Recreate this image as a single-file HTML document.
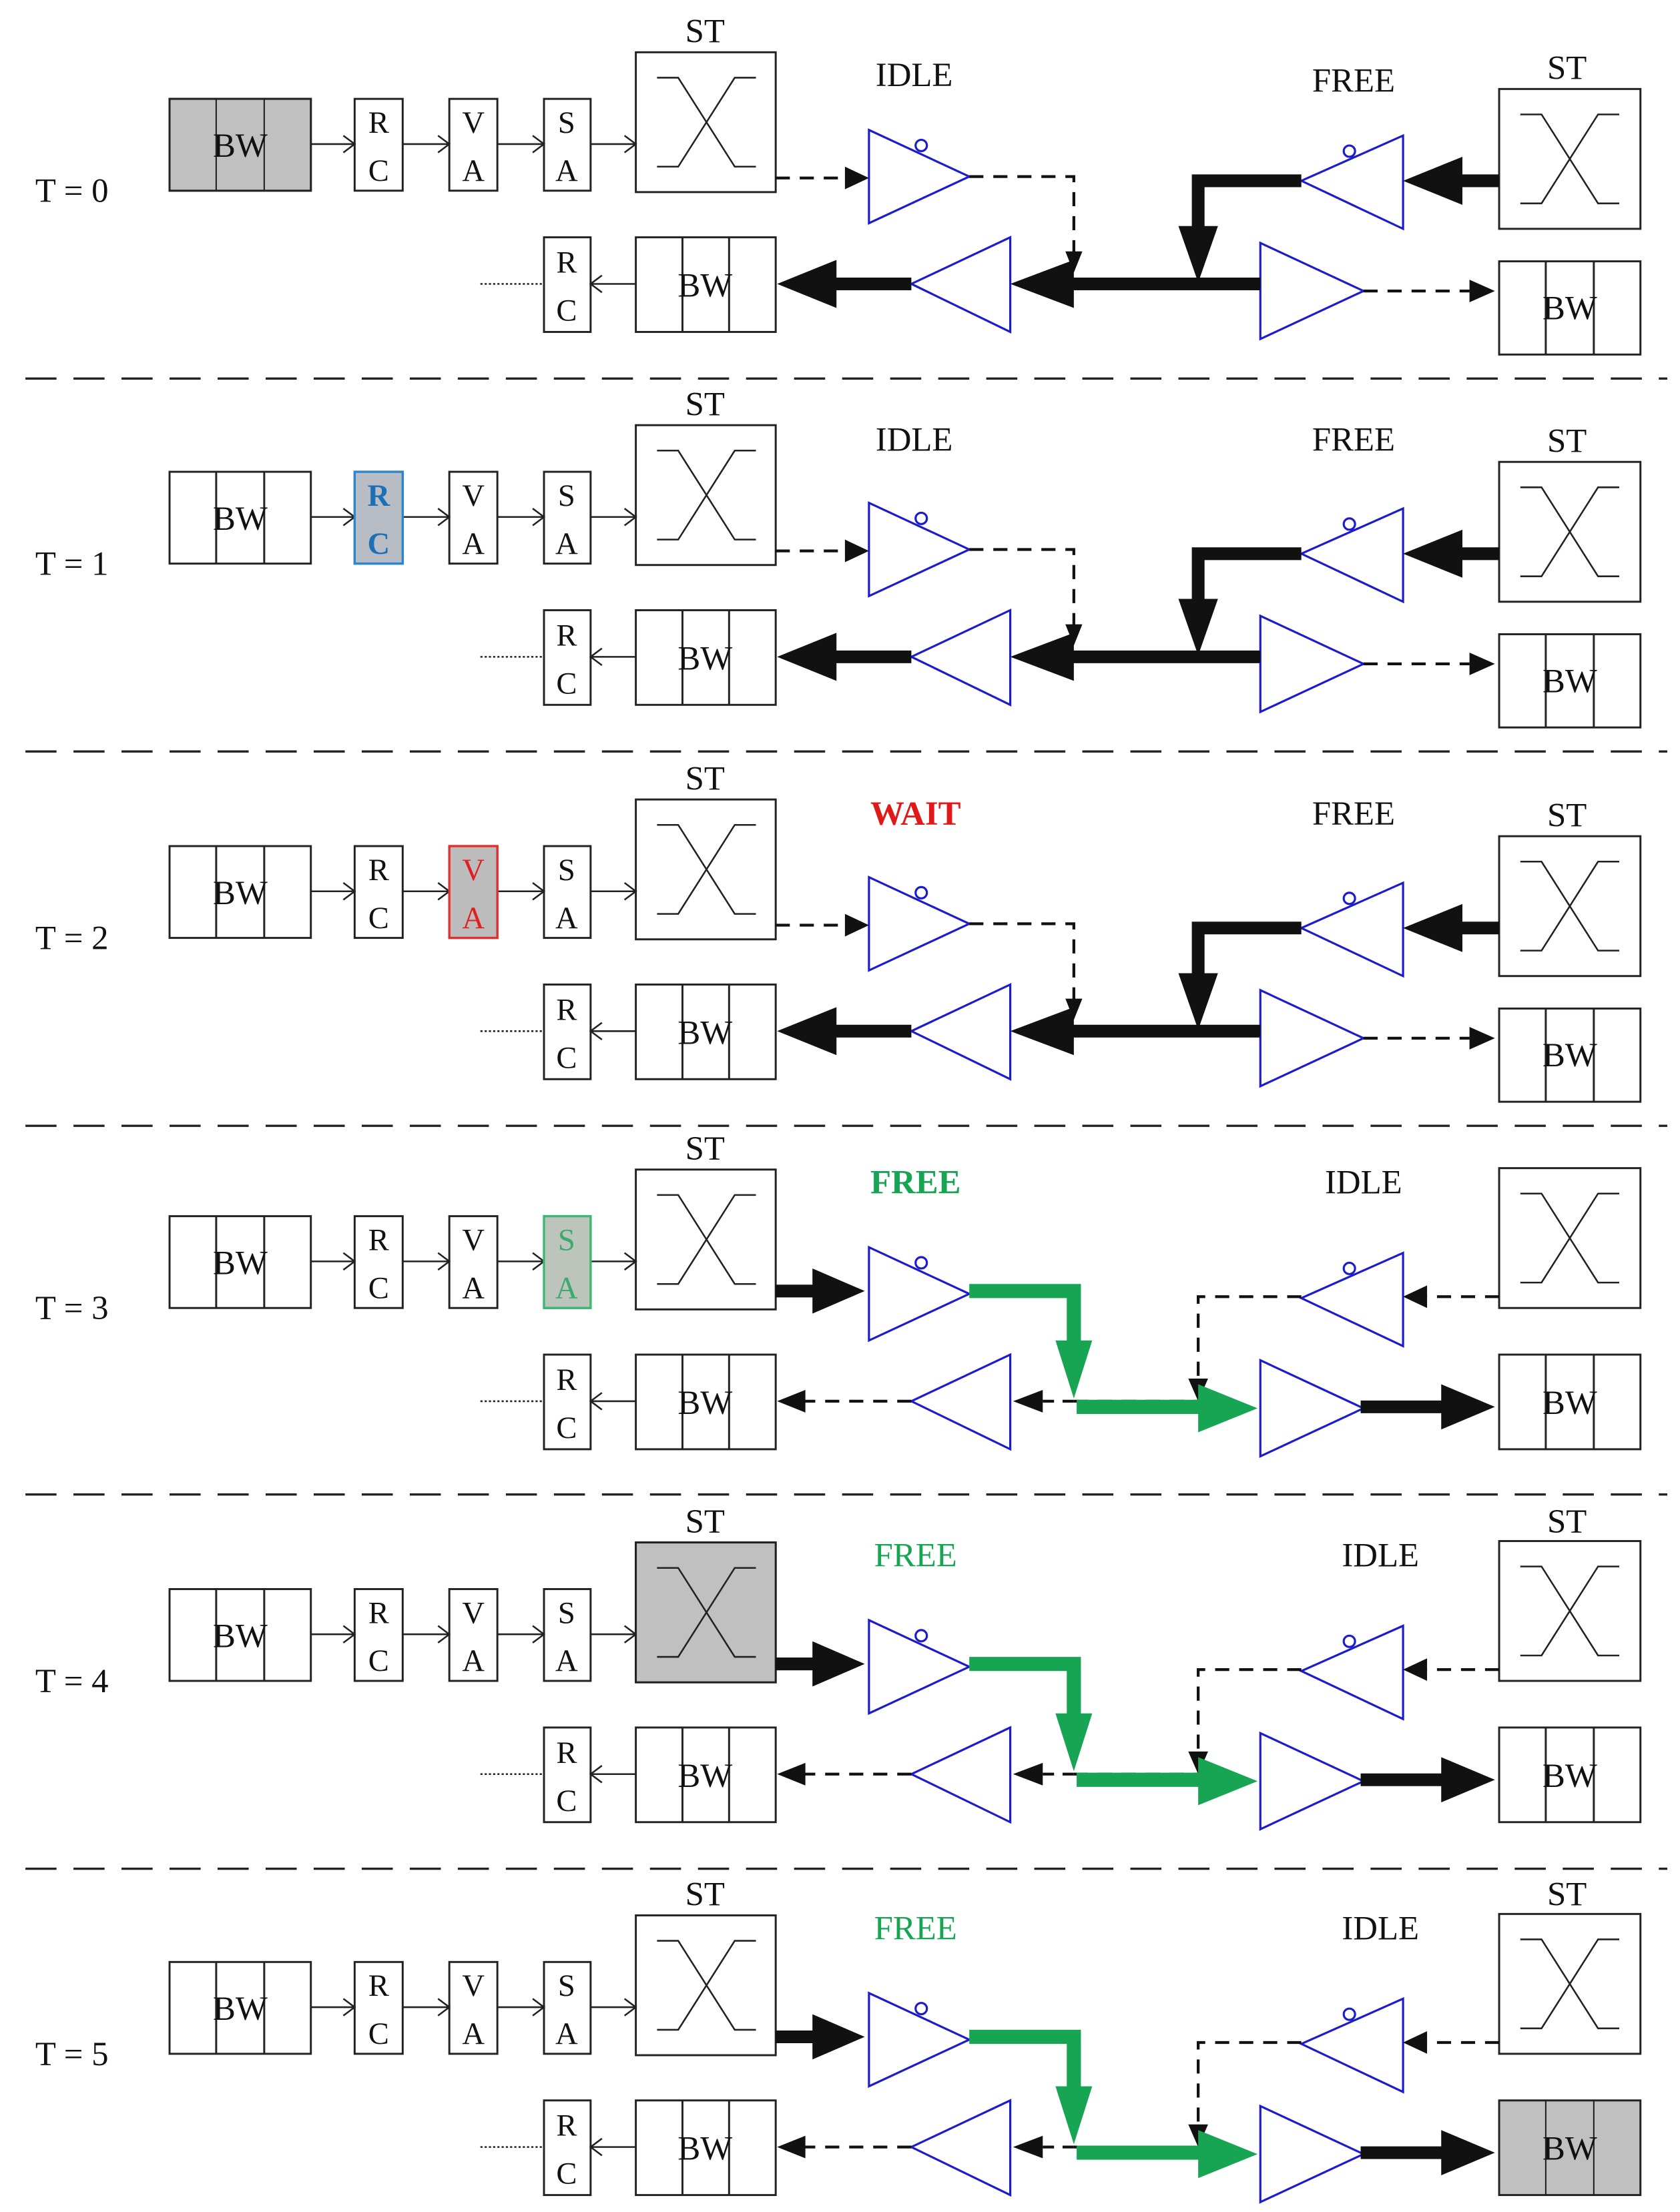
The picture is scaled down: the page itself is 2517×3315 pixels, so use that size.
<!DOCTYPE html>
<html><head><meta charset="utf-8"><style>
html,body{margin:0;padding:0;background:#fff}
svg{display:block}
text{font-family:"Liberation Serif",serif;fill:#111}
</style></head><body>
<svg width="2517" height="3315" viewBox="0 0 1189 1566" preserveAspectRatio="none" xmlns="http://www.w3.org/2000/svg">
<defs>
<g id="L" stroke="#222" stroke-width="1.4" fill="none">
 <rect x="120" y="70" width="100" height="65" fill="#fff"/>
 <line x1="153" y1="70" x2="153" y2="135"/><line x1="187" y1="70" x2="187" y2="135"/>
 <rect x="251" y="70" width="34" height="65" fill="#fff"/>
 <rect x="318" y="70" width="34" height="65" fill="#fff"/>
 <rect x="385" y="70" width="33" height="65" fill="#fff"/>
 <rect x="450" y="37" width="99" height="99" fill="#fff"/>
 <path d="M465 55H480L520 118H535M535 55H520L480 118H465" stroke-width="1.2"/>
 <rect x="385" y="168" width="33" height="67" fill="#fff"/>
 <rect x="450" y="168" width="99" height="67" fill="#fff"/>
 <line x1="483" y1="168" x2="483" y2="235"/><line x1="516" y1="168" x2="516" y2="235"/>
 <path d="M220 102H251M243 96L251 102L243 108M285 102H318M310 96L318 102L310 108M352 102H385M377 96L385 102L377 108M418 102H450M442 96L450 102L442 108" stroke-width="1.2"/>
 <path d="M450 201H418M426 195L418 201L426 207" stroke-width="1.2"/>
 <path d="M340 201H385" stroke-dasharray="1.5 1.5" stroke-width="1.2"/>
 <g stroke="#1c1ccc" stroke-width="1.5" fill="#fff">
  <path d="M615 92L615 158L686 125Z"/><circle cx="652" cy="103" r="4"/>
  <path d="M715 168L715 235L645 201Z"/>
  <path d="M993 96L993 162L921 128Z"/><circle cx="955" cy="107" r="4"/>
  <path d="M892 172L892 240L965 206Z"/>
 </g>
</g>
<g id="RA">
 <g stroke="#222" stroke-width="1.4" fill="#fff">
  <rect x="1061" y="63" width="100" height="99"/>
  <path d="M1076 81H1091L1131 144H1146M1146 81H1131L1091 144H1076" fill="none" stroke-width="1.2"/>
  <rect x="1061" y="185" width="100" height="66"/>
  <line x1="1094" y1="185" x2="1094" y2="251"/><line x1="1128" y1="185" x2="1128" y2="251"/>
 </g>
 <g stroke="#111" fill="none">
  <path d="M549 126H600" stroke-dasharray="10 7" stroke-width="2"/>
  <path d="M686 125H760V180" stroke-dasharray="10 7" stroke-width="2"/>
  <path d="M965 206H1040" stroke-dasharray="10 7" stroke-width="2"/>
  <path d="M892 201H758" stroke-width="9"/>
  <path d="M645 201H590" stroke-width="9"/>
  <path d="M921 128H848V162" stroke-width="9"/>
  <path d="M1061 128H1033" stroke-width="9"/>
 </g>
 <g fill="#111">
  <path d="M615 126L598 118L598 134Z"/>
  <path d="M760 193L754 178L766 178Z"/>
  <path d="M1058 206L1040 198L1040 214Z"/>
  <path d="M715 201L760 184L760 218Z"/>
  <path d="M550 201L592 184L592 218Z"/>
  <path d="M848 200L834 160L862 160Z"/>
  <path d="M993 128L1035 111L1035 145Z"/>
 </g>
</g>
<g id="RB">
 <g stroke="#222" stroke-width="1.4" fill="#fff">
  <rect x="1061" y="36" width="100" height="99"/>
  <path d="M1076 54H1091L1131 117H1146M1146 54H1131L1091 117H1076" fill="none" stroke-width="1.2"/>
 </g>
 <g stroke="#111" fill="none">
  <path d="M549 123H578" stroke-width="9"/>
  <path d="M963 205H1022" stroke-width="9"/>
  <path d="M1061 127H1008" stroke-dasharray="10 7" stroke-width="2"/>
  <path d="M921 127H848V188" stroke-dasharray="10 7" stroke-width="2"/>
  <path d="M760 201H848" stroke-dasharray="10 7" stroke-width="2"/>
  <path d="M760 201H738" stroke-dasharray="8 6" stroke-width="2"/>
  <path d="M645 201H568" stroke-dasharray="10 7" stroke-width="2"/>
 </g>
 <g fill="#111">
  <path d="M612 123L575 107L575 139Z"/>
  <path d="M1058 205L1020 189L1020 221Z"/>
  <path d="M993 127L1010 119L1010 135Z"/>
  <path d="M848 201L841 185L855 185Z"/>
  <path d="M717 201L738 193L738 209Z"/>
  <path d="M550 201L570 193L570 209Z"/>
 </g>
 <g stroke="#17a553" fill="none" stroke-width="10">
  <path d="M686 123H760V162"/>
  <path d="M762 205H852"/>
 </g>
 <g fill="#17a553">
  <path d="M760 199L747 158L773 158Z"/>
  <path d="M890 206L848 189L848 223Z"/>
 </g>
</g>
<g id="RBB" stroke="#222" stroke-width="1.4">
 <rect x="1061" y="168" width="100" height="67" fill="#fff"/>
 <line x1="1094" y1="168" x2="1094" y2="235"/><line x1="1128" y1="168" x2="1128" y2="235"/>
</g>
</defs>

<g stroke="#222" stroke-width="1.6" stroke-dasharray="22 12">
 <line x1="18" y1="268" x2="1180" y2="268"/>
 <line x1="18" y1="532" x2="1180" y2="532"/>
 <line x1="18" y1="797" x2="1180" y2="797"/>
 <line x1="18" y1="1058" x2="1180" y2="1058"/>
 <line x1="18" y1="1323" x2="1180" y2="1323"/>
</g>

<!-- T=0 -->
<g transform="translate(0,0)" font-size="24">
 <use href="#L"/><use href="#RA"/>
 <rect x="120" y="70" width="100" height="65" fill="#c0c0c0" stroke="#222" stroke-width="1.4"/>
 <line x1="153" y1="70" x2="153" y2="135" stroke="#222"/><line x1="187" y1="70" x2="187" y2="135" stroke="#222"/>
 <text x="25" y="143">T = 0</text>
 <text x="170" y="111" text-anchor="middle">BW</text>
 <text x="268" y="94" text-anchor="middle" font-size="22">R</text><text x="268" y="128" text-anchor="middle" font-size="22">C</text>
 <text x="335" y="94" text-anchor="middle" font-size="22">V</text><text x="335" y="128" text-anchor="middle" font-size="22">A</text>
 <text x="401" y="94" text-anchor="middle" font-size="22">S</text><text x="401" y="128" text-anchor="middle" font-size="22">A</text>
 <text x="499" y="30" text-anchor="middle">ST</text>
 <text x="401" y="193" text-anchor="middle" font-size="22">R</text><text x="401" y="227" text-anchor="middle" font-size="22">C</text>
 <text x="499" y="210" text-anchor="middle">BW</text>
 <text x="1111" y="226" text-anchor="middle">BW</text>
 <text x="647" y="61" text-anchor="middle">IDLE</text>
 <text x="958" y="65" text-anchor="middle">FREE</text>
 <text x="1109" y="56" text-anchor="middle">ST</text>
</g>

<!-- T=1 -->
<g transform="translate(0,264)" font-size="24">
 <use href="#L"/><use href="#RA"/>
 <rect x="251" y="70" width="34" height="65" fill="#b8bcc4" stroke="#2a86d0" stroke-width="1.6"/>
 <text x="25" y="143">T = 1</text>
 <text x="170" y="111" text-anchor="middle">BW</text>
 <text x="268" y="94" text-anchor="middle" font-size="22" font-weight="bold" style="fill:#1f6fb5">R</text><text x="268" y="128" text-anchor="middle" font-size="22" font-weight="bold" style="fill:#1f6fb5">C</text>
 <text x="335" y="94" text-anchor="middle" font-size="22">V</text><text x="335" y="128" text-anchor="middle" font-size="22">A</text>
 <text x="401" y="94" text-anchor="middle" font-size="22">S</text><text x="401" y="128" text-anchor="middle" font-size="22">A</text>
 <text x="499" y="30" text-anchor="middle">ST</text>
 <text x="401" y="193" text-anchor="middle" font-size="22">R</text><text x="401" y="227" text-anchor="middle" font-size="22">C</text>
 <text x="499" y="210" text-anchor="middle">BW</text>
 <text x="1111" y="226" text-anchor="middle">BW</text>
 <text x="647" y="55" text-anchor="middle">IDLE</text>
 <text x="958" y="55" text-anchor="middle">FREE</text>
 <text x="1109" y="56" text-anchor="middle">ST</text>
</g>

<!-- T=2 -->
<g transform="translate(0,529)" font-size="24">
 <use href="#L"/><use href="#RA"/>
 <rect x="318" y="70" width="34" height="65" fill="#bcbcbc" stroke="#e03030" stroke-width="1.6"/>
 <text x="25" y="143">T = 2</text>
 <text x="170" y="111" text-anchor="middle">BW</text>
 <text x="268" y="94" text-anchor="middle" font-size="22">R</text><text x="268" y="128" text-anchor="middle" font-size="22">C</text>
 <text x="335" y="94" text-anchor="middle" font-size="22" style="fill:#e02020">V</text><text x="335" y="128" text-anchor="middle" font-size="22" style="fill:#e02020">A</text>
 <text x="401" y="94" text-anchor="middle" font-size="22">S</text><text x="401" y="128" text-anchor="middle" font-size="22">A</text>
 <text x="499" y="30" text-anchor="middle">ST</text>
 <text x="401" y="193" text-anchor="middle" font-size="22">R</text><text x="401" y="227" text-anchor="middle" font-size="22">C</text>
 <text x="499" y="210" text-anchor="middle">BW</text>
 <text x="1111" y="226" text-anchor="middle">BW</text>
 <text x="648" y="55" text-anchor="middle" font-weight="bold" style="fill:#e01818">WAIT</text>
 <text x="958" y="55" text-anchor="middle">FREE</text>
 <text x="1109" y="56" text-anchor="middle">ST</text>
</g>

<!-- T=3 -->
<g transform="translate(0,791)" font-size="24">
 <use href="#L"/><use href="#RB"/><use href="#RBB"/>
 <rect x="385" y="70" width="33" height="65" fill="#bcc4bc" stroke="#3cb870" stroke-width="1.6"/>
 <text x="25" y="143">T = 3</text>
 <text x="170" y="111" text-anchor="middle">BW</text>
 <text x="268" y="94" text-anchor="middle" font-size="22">R</text><text x="268" y="128" text-anchor="middle" font-size="22">C</text>
 <text x="335" y="94" text-anchor="middle" font-size="22">V</text><text x="335" y="128" text-anchor="middle" font-size="22">A</text>
 <text x="401" y="94" text-anchor="middle" font-size="22" style="fill:#3caa6a">S</text><text x="401" y="128" text-anchor="middle" font-size="22" style="fill:#3caa6a">A</text>
 <text x="499" y="30" text-anchor="middle">ST</text>
 <text x="401" y="193" text-anchor="middle" font-size="22">R</text><text x="401" y="227" text-anchor="middle" font-size="22">C</text>
 <text x="499" y="210" text-anchor="middle">BW</text>
 <text x="1111" y="210" text-anchor="middle">BW</text>
 <text x="648" y="54" text-anchor="middle" font-weight="bold" style="fill:#17a553">FREE</text>
 <text x="965" y="54" text-anchor="middle">IDLE</text>
</g>

<!-- T=4 -->
<g transform="translate(0,1055)" font-size="24">
 <use href="#L"/><use href="#RB"/><use href="#RBB"/>
 <rect x="450" y="37" width="99" height="99" fill="#c0c0c0" stroke="#222" stroke-width="1.4"/>
 <path d="M465 55H480L520 118H535M535 55H520L480 118H465" fill="none" stroke="#222" stroke-width="1.2"/>
 <path d="M549 123H578" stroke="#111" stroke-width="9"/>
 <text x="25" y="143">T = 4</text>
 <text x="170" y="111" text-anchor="middle">BW</text>
 <text x="268" y="94" text-anchor="middle" font-size="22">R</text><text x="268" y="128" text-anchor="middle" font-size="22">C</text>
 <text x="335" y="94" text-anchor="middle" font-size="22">V</text><text x="335" y="128" text-anchor="middle" font-size="22">A</text>
 <text x="401" y="94" text-anchor="middle" font-size="22">S</text><text x="401" y="128" text-anchor="middle" font-size="22">A</text>
 <text x="499" y="30" text-anchor="middle">ST</text>
 <text x="401" y="193" text-anchor="middle" font-size="22">R</text><text x="401" y="227" text-anchor="middle" font-size="22">C</text>
 <text x="499" y="210" text-anchor="middle">BW</text>
 <text x="1111" y="210" text-anchor="middle">BW</text>
 <text x="648" y="54" text-anchor="middle" style="fill:#17a553">FREE</text>
 <text x="977" y="54" text-anchor="middle">IDLE</text>
 <text x="1109" y="30" text-anchor="middle">ST</text>
</g>

<!-- T=5 -->
<g transform="translate(0,1319)" font-size="24">
 <use href="#L"/><use href="#RB"/>
 <rect x="1061" y="168" width="100" height="67" fill="#c0c0c0" stroke="#222" stroke-width="1.4"/>
 <line x1="1094" y1="168" x2="1094" y2="235" stroke="#222"/><line x1="1128" y1="168" x2="1128" y2="235" stroke="#222"/>
 <text x="25" y="143">T = 5</text>
 <text x="170" y="111" text-anchor="middle">BW</text>
 <text x="268" y="94" text-anchor="middle" font-size="22">R</text><text x="268" y="128" text-anchor="middle" font-size="22">C</text>
 <text x="335" y="94" text-anchor="middle" font-size="22">V</text><text x="335" y="128" text-anchor="middle" font-size="22">A</text>
 <text x="401" y="94" text-anchor="middle" font-size="22">S</text><text x="401" y="128" text-anchor="middle" font-size="22">A</text>
 <text x="499" y="30" text-anchor="middle">ST</text>
 <text x="401" y="193" text-anchor="middle" font-size="22">R</text><text x="401" y="227" text-anchor="middle" font-size="22">C</text>
 <text x="499" y="210" text-anchor="middle">BW</text>
 <text x="1111" y="210" text-anchor="middle">BW</text>
 <text x="648" y="54" text-anchor="middle" style="fill:#17a553">FREE</text>
 <text x="977" y="54" text-anchor="middle">IDLE</text>
 <text x="1109" y="30" text-anchor="middle">ST</text>
</g>
</svg>
</body></html>
